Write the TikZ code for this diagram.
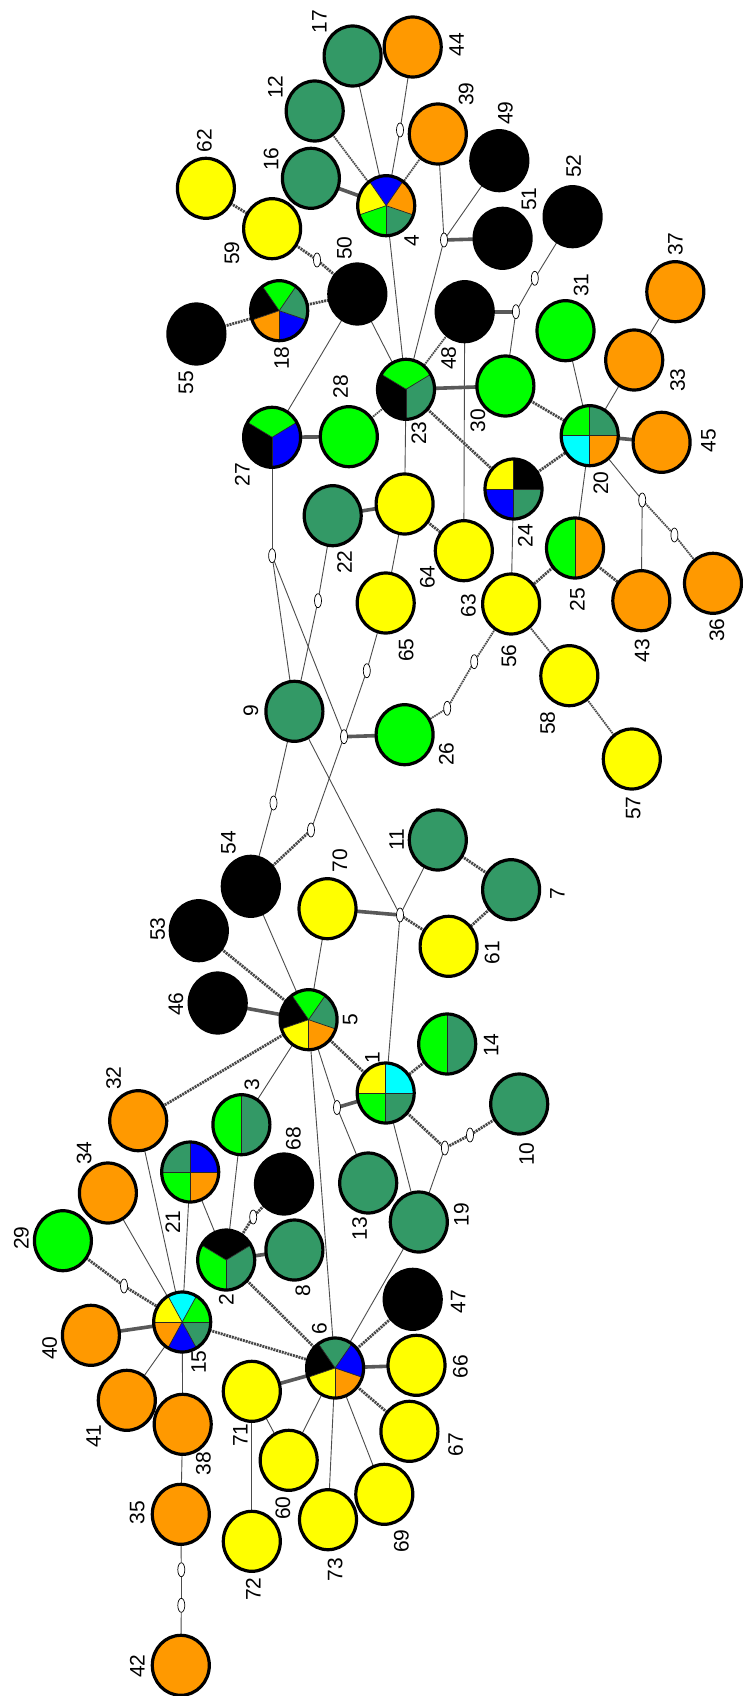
\documentclass[tikz,border=0pt]{standalone}
\usepackage{fontspec}
\setmainfont{Liberation Sans}
\usetikzlibrary{shapes.geometric}
\pgfdeclarelayer{bg}
\pgfsetlayers{bg,main}
\definecolor{cdg}{RGB}{51,153,102}
\definecolor{cgr}{RGB}{0,255,0}
\definecolor{cor}{RGB}{255,153,0}
\definecolor{cye}{RGB}{255,255,0}
\definecolor{cbl}{RGB}{0,0,255}
\definecolor{ccy}{RGB}{0,255,255}
\definecolor{cbk}{RGB}{0,0,0}
\tikzset{
  nd/.style={ellipse, draw=black, line width=3.2pt, minimum width=57pt, minimum height=60pt, inner sep=0pt, outer sep=0pt},
  mk/.style={ellipse, draw=black, fill=white, line width=0.7pt, minimum width=7pt, minimum height=14pt, inner sep=0pt, outer sep=0pt},
  lb/.style={rotate=90, font=\fontsize{21}{25}\selectfont, inner sep=0pt},
  ethin/.style={line width=0.9pt, black!70},
  ethick/.style={line width=3.6pt, black!65},
  etex/.style={line width=2.8pt, black!72, dash pattern=on 2pt off 0.9pt},
  etexthin/.style={line width=1.8pt, black!70, dash pattern=on 1.6pt off 0.8pt}
}
\newcommand\pienode[3]{%
  \foreach \pieA/\pieB/\pieC in {#3}{\fill[\pieC] (#2) -- ++(\pieA:28.5pt and 30pt) arc[start angle=\pieA, end angle=\pieB, x radius=28.5pt, y radius=30pt] -- cycle;}
  \foreach \pieA/\pieB/\pieC in {#3}{\draw[line width=0.7pt, black!85] (#2) -- ++(\pieA:28.5pt and 30pt);}
  \node[nd] (#1) at (#2) {};}
\begin{document}
\begin{tikzpicture}[x=1pt,y=1pt]
\useasboundingbox (0,0) rectangle (742,-1696);
% single colour nodes
\foreach \n/\x/\y/\c in {
17/352.6/56/cdg, 44/412.7/47/cor, 12/314.7/111/cdg, 39/437.8/134/cor, 49/499.3/160.7/cbk,
62/205.9/188.3/cye, 16/310.9/178.3/cdg, 52/572.6/216.7/cbk, 51/502.6/238.3/cbk, 59/272.1/228.7/cye,
50/357.3/294/cbk, 55/196.4/334/cbk, 48/464.7/311.7/cbk, 37/675.3/291.7/cor, 31/565.5/330.7/cgr,
33/634.2/360/cor, 30/505.4/386/cgr, 28/348.8/436.7/cgr, 45/661.6/442.3/cor, 22/332.7/515.7/cdg,
64/404.6/504/cye, 63/463.8/550.7/cye, 65/385.7/603/cye, 56/511.1/604/cye, 43/641.3/600.7/cor,
36/713/583.3/cor, 58/569.3/675.7/cye, 57/631.8/759/cye, 9/294.4/711.3/cdg, 26/404.6/734.7/cgr,
11/437.8/840/cdg, 54/250.8/886.3/cbk, 70/327.5/908.7/cye, 7/511.1/889.7/cdg, 53/198.8/930.7/cbk,
61/448.6/946.3/cye, 46/217.7/1003/cbk, 10/519.2/1104/cdg, 32/138.2/1120.7/cor, 68/284/1184/cbk,
34/107.9/1193/cor, 13/368.2/1183/cdg, 19/418.8/1222/cdg, 29/62.9/1240.7/cgr, 8/294.4/1250/cdg,
40/90.9/1335.3/cor, 47/412.7/1299.3/cbk, 66/416.5/1365.3/cye, 71/251.8/1391.3/cye, 41/126.8/1400.3/cor,
38/182.7/1424.3/cor, 67/409.4/1431.3/cye, 60/288.7/1460.3/cye, 69/384.3/1494.3/cye, 35/180.8/1514.3/cor,
73/328/1519.7/cye, 72/251.8/1541.3/cye, 42/180.8/1665.3/cor}
  \node[nd, fill=\c] (n\n) at (\x,-\y) {};
% pie nodes
\pienode{n4}{386.2,-205.7}{54/126/cbl,126/198/cye,198/270/cgr,270/342/cdg,342/414/cor}
\pienode{n18}{279.2,-310.7}{54/126/cgr,126/198/cbk,198/270/cor,270/342/cbl,342/414/cdg}
\pienode{n23}{406,-389.3}{30/150/cgr,150/270/cbk,270/390/cdg}
\pienode{n27}{272.1,-437.3}{30/150/cgr,150/270/cbk,270/390/cbl}
\pienode{n20}{589.7,-435.7}{0/90/cdg,90/180/cgr,180/270/ccy,270/360/cor}
\pienode{n24}{513.5,-489}{0/90/cbk,90/180/cye,180/270/cbl,270/360/cdg}
\pienode{n25}{575,-548}{90/270/cgr,270/450/cor}
\pienode{n5}{308.6,-1019.7}{54/126/cgr,126/198/cbk,198/270/cye,270/342/cor,342/414/cdg}
\pienode{n1}{385.7,-1093}{0/90/ccy,90/180/cye,180/270/cgr,270/360/cdg}
\pienode{n14}{447.2,-1044}{90/270/cgr,270/450/cdg}
\pienode{n3}{241.4,-1124.7}{90/270/cgr,270/450/cdg}
\pienode{n21}{190.2,-1172}{0/90/cbl,90/180/cdg,180/270/cgr,270/360/cor}
\pienode{n2}{226.2,-1260}{30/150/cbk,150/270/cgr,270/390/cdg}
\pienode{n15}{182.2,-1322}{0/60/cgr,60/120/ccy,120/180/cye,180/240/cor,240/300/cbl,300/360/cdg}
\pienode{n6}{335.1,-1368}{54/126/cdg,126/198/cbk,198/270/cye,270/342/cor,342/414/cbl}
% junctions and markers
\foreach \n/\x/\y in {J1/444/240, J2/515.9/311.7, J3/642.2/500, J4/344/736.7, J5/400/915, J6/337/1107.5, J7/444.9/1148,
m44/400/130, m52/534.8/278.3, m59/317/260, m36/674.4/535, m56a/474.2/661.7, m56b/447.2/708.3,
m27/272.1/555.7, m22/318/600.7, m65/366.8/670.7, m54a/311/830, m54b/273.5/803, m10/470/1135,
m29/124/1286, m35a/181.3/1569.7, m35b/181.3/1605.3, m68/253.2/1217}
  \node[mk] (\n) at (\x,-\y) {};
% labels
\foreach \n/\x/\y in {
17/319.5/21.7, 44/456.7/45, 12/275.4/87.3, 39/466.2/94, 49/505.4/113.3, 62/204.4/140.7, 16/271.2/159.3,
52/573.6/166, 51/529.1/199.3, 4/411.7/240.7, 59/231.9/253.3, 50/344.5/248.3, 37/675.3/244, 31/581.2/285,
48/448.6/358.3, 18/281.6/358.3, 55/186/382.7, 28/340.7/386.7, 33/677.7/380, 23/418.8/433.3, 30/478/420.7,
27/242.3/474.7, 45/708.5/440.7, 20/601/483.3, 22/344.5/562.3, 24/525.3/535.7, 64/427.4/577.3, 25/577.4/599.7,
63/468.5/605.7, 36/717/630, 65/406.1/650, 56/508.8/656.3, 43/642.2/650.7, 9/250.8/710.7, 58/547.6/723,
26/446.3/754, 57/633.2/808, 11/396.6/839.3, 54/228.6/842.7, 70/339.8/860.7, 7/557.5/893.3, 53/157.6/929.3,
61/492.2/952.7, 46/176/1004, 5/350.2/1019.7, 14/491.2/1045.3, 1/372.5/1057.3, 32/113.6/1078, 3/251.8/1084.7,
68/293.4/1138.7, 10/526.7/1154, 34/84.2/1153, 21/172.7/1222, 13/359.7/1228.7, 19/461.4/1214.7, 29/21.3/1238,
2/226.2/1299.3, 8/302.9/1290.7, 47/458.1/1301.7, 40/49.7/1348.3, 6/319.5/1328.3, 15/198.8/1362.3,
66/460.5/1366.7, 41/93.7/1436, 71/240.4/1435.3, 38/203.5/1463.7, 67/455.7/1444.7, 60/283/1508,
35/137.2/1512.7, 69/401.3/1541.3, 73/335.1/1569.7, 72/253.2/1589.3, 42/137.2/1666}
  \node[lb] (l\n) at (\x,-\y) {\n};
% connectors
\begin{pgfonlayer}{bg}
\fill[white] (0,0) rectangle (742,-1696);
\foreach \a/\b in {n17/n4, n44/m44, m44/n4, n4/n23, n39/J1, n49/J1, J1/n23, n52/m52, m52/J2, J2/n30,
  n48/n63, n50/n23, n50/n27, n23/n64, n31/n20, n33/n20, n37/n33, n20/n25, n20/J3, J3/n43, n24/n56,
  n64/n65, n27/m27, m27/n9, m27/J4, n22/m22, m22/n9, n65/m65, m65/J4, J4/m54a, n9/m54b, m54b/n54,
  n9/J5, J5/n11, J5/n1, n70/n5, n54/n5, n5/J6, J6/n13, J7/n19, n1/n19, n5/n6, n5/n3, n3/n2, n21/n2,
  n21/n15, n32/n15, n34/n15, n15/n41, n15/n38, n38/n35, n35/m35a, m35a/m35b, m35b/n42, n19/n6,
  n69/n6, n73/n6, n60/n6, n71/n60, n71/n72}
  \draw[ethin] (\a) -- (\b);
\foreach \a/\b in {n16/n4, n51/J1, n48/J2, n23/n30, n27/n28, n20/n45, n22/n64, n26/J4, J5/n70,
  n46/n5, n1/J6, n40/n15, n2/n8, n66/n6, n71/n6}
  \draw[ethick] (\a) -- (\b);
\foreach \a/\b in {n59/m59, m59/n50, n62/n59, n18/n50, n55/n18, n23/n24, n24/n20, n30/n20, n25/n43,
  n25/n56, n64/n63, m54a/n54, J5/n61, n53/n5, n11/n7, n7/n61, n5/n1, n14/n1, n1/J7, n10/m10, m10/J7,
  n5/n32, n29/m29, m29/n15, n15/n6, n2/n6, n68/m68, m68/n2, n47/n6, n67/n6}
  \draw[etex] (\a) -- (\b);
\foreach \a/\b in {n12/n4, n39/n4, n48/n23, n23/n28, J3/m36, m36/n36, n56/n58, n58/n57, n56/m56a,
  m56a/m56b, m56b/n26}
  \draw[etexthin] (\a) -- (\b);
\end{pgfonlayer}
\end{tikzpicture}
\end{document}
